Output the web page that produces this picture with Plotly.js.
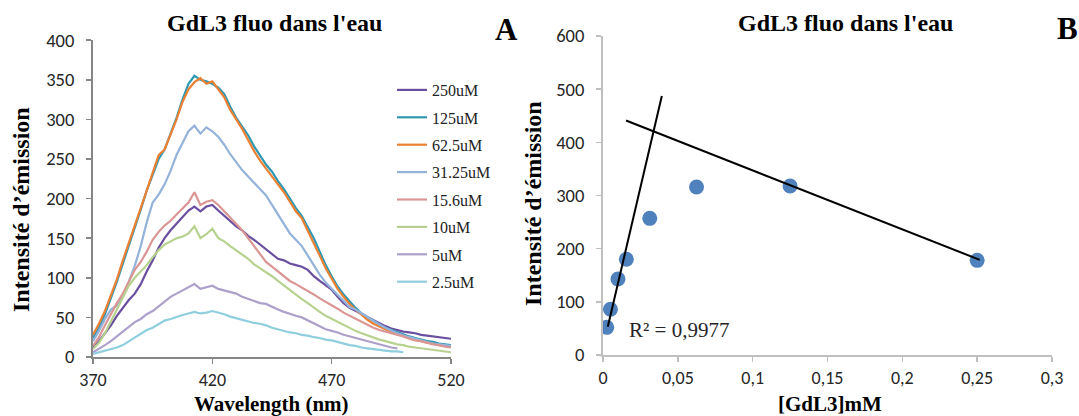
<!DOCTYPE html>
<html>
<head>
<meta charset="utf-8">
<script src="https://cdn.plot.ly/plotly-3.0.1.min.js"></script>
<style>
html,body{margin:0;padding:0;background:#ffffff;overflow:hidden}
#chart{width:1079px;height:416px}
</style>
</head>
<body>
<div id="chart"></div>
<script>
// ---------- Panel A data : emission spectra ----------
const wavelength = [370,372.5,375,377.5,380,382.5,385,387.5,390,392.5,
  395,397.5,400,402.5,405,407.5,410,412.5,415,417.5,
  420,422.5,425,427.5,430,432.5,435,437.5,440,442.5,
  445,447.5,450,452.5,455,457.5,460,462.5,465,467.5,
  470,472.5,475,477.5,480,482.5,485,487.5,490,492.5,
  495,497.5,500,502.5,505,507.5,510,512.5,515,517.5,520];

const seriesNames = ['250uM','125uM','62.5uM','31.25uM','15.6uM','10uM','5uM','2.5uM'];

const i250uM = [12,20,30,40,52,62,72,80,92,108,
  122,138,150,160,168,176,185,190,184,190,
  192,185,178,172,165,160,153,148,142,136,
  130,124,122,118,116,114,110,102,96,90,
  85,76,68,62,58,54,50,46,43,39,
  36,34,32,31,30,28,27,26,25,24,23];

const i125uM = [24,37,54,74,95,118,140,162,186,210,
  230,250,262,282,302,325,345,355,350,348,
  345,340,332,316,302,291,280,266,255,243,
  234,222,212,200,188,178,164,150,133,116,
  102,89,79,70,62,55,50,45,41,37,
  34,31,29,26,24,22,20,19,17,16,15];

const i62_5uM = [28,42,58,78,98,122,145,165,188,210,
  232,255,262,280,300,322,338,347,352,345,
  348,338,328,312,300,288,274,260,248,238,
  228,218,208,196,184,175,160,145,128,112,
  98,86,76,67,60,53,47,42,38,35,
  32,29,27,24,22,20,18,17,15,14,13];

const i31_25uM = [20,33,48,60,65,78,95,115,140,170,
  195,205,218,235,255,270,285,292,282,290,
  285,278,268,256,246,236,228,220,212,204,
  192,180,168,156,148,140,128,116,104,94,
  86,78,70,63,60,55,50,45,41,37,
  33,30,27,25,23,21,19,17,16,15,14];

const i15_6uM = [14,25,40,55,68,80,95,110,120,133,
  148,158,166,172,180,187,195,208,192,196,
  198,192,184,176,168,160,150,140,130,120,
  114,108,102,96,92,88,84,79,74,70,
  66,61,56,52,48,44,40,37,34,32,
  30,28,26,23,21,20,18,16,15,13,12];

const i10uM = [10,18,30,45,60,75,90,100,108,116,
  126,135,142,146,150,152,156,165,150,155,
  162,150,146,140,135,130,124,117,112,108,
  102,96,90,84,78,73,68,62,57,52,
  48,44,40,36,33,30,27,24,22,20,
  18,16,15,13,12,11,10,9,8,7,6];

const i5uM = [6,10,15,20,26,32,38,44,48,54,
  58,64,70,76,80,84,87,92,86,88,
  90,86,84,82,80,76,73,70,68,67,
  63,60,57,54,52,50,46,42,38,35,
  33,31,28,26,24,22,20,18,16,14,
  12,11];

const i2_5uM = [4,6,8,10,12,15,20,25,30,34,
  37,42,46,48,51,53,55,57,55,56,
  58,56,54,51,49,47,45,43,42,40,
  37,35,33,31,30,28,27,25,24,22,
  21,19,17,15,14,12,11,10,9,8,
  7,7,6];

const xTicksA = [370,420,470,520];

// ---------- Panel B data ----------
const concentration = [0.0025,0.005,0.01,0.0156,0.03125,0.0625,0.125,0.25];
const intensity = [52,86,143,180,257,316,318,178];
const trendRise_x = [0.0032,0.0393];
const trendRise_y = [53,487];
const trendFall_x = [0.0154,0.2517];
const trendFall_y = [441,179];
const xTickValsB = [0,0.05,0.1,0.15,0.2,0.25,0.3];
const xTickTextB = ['0','0,05','0,1','0,15','0,2','0,25','0,3'];
const yTicksB = [0,100,200,300,400,500,600];
const r2Label = 'R² = 0,9977';

// ---------- styles ----------
const W = 1079, H = 416;
const px = v => v / W;
const py = v => 1 - v / H;
const serif = "'Liberation Serif','Times New Roman',serif";
const sans = "Carlito,Calibri,'Liberation Sans',Arial,sans-serif";
const colors = ['#6A4FA0','#2E98B2','#EC8033','#94B3DA','#D99694','#B7D28F','#ADA0CA','#8FCEDD'];
const seriesValues = [i250uM,i125uM,i62_5uM,i31_25uM,i15_6uM,i10uM,i5uM,i2_5uM];

const traces = seriesNames.map((name, k) => ({
  type: 'scatter', mode: 'lines',
  x: wavelength.slice(0, seriesValues[k].length),
  y: seriesValues[k],
  name: name, legendgroup: 'g' + k,
  line: {color: colors[k], width: 2.2},
  xaxis: 'x', yaxis: 'y', hoverinfo: 'skip'
}));
traces.push({
  type: 'scatter', mode: 'markers', x: concentration, y: intensity,
  marker: {color: '#4F81BD', size: 15}, showlegend: false,
  xaxis: 'x2', yaxis: 'y2', hoverinfo: 'skip'
});
traces.push({
  type: 'scatter', mode: 'lines', x: trendRise_x, y: trendRise_y,
  line: {color: '#000000', width: 2}, showlegend: false,
  xaxis: 'x2', yaxis: 'y2', hoverinfo: 'skip', cliponaxis: false
});
traces.push({
  type: 'scatter', mode: 'lines', x: trendFall_x, y: trendFall_y,
  line: {color: '#000000', width: 2}, showlegend: false,
  xaxis: 'x2', yaxis: 'y2', hoverinfo: 'skip', cliponaxis: false
});

const axA = {
  showgrid: false, zeroline: false, showline: true, linecolor: '#868686', linewidth: 2,
  ticks: 'outside', ticklen: 5, tickwidth: 1.5, tickcolor: '#868686',
  tickfont: {family: sans, size: 18.5, color: '#262626'}, ticklabelstandoff: 8, fixedrange: true
};
const axB = Object.assign({}, axA, {linecolor: '#BFBFBF', tickcolor: '#BFBFBF'});
const xTickFont = {family: sans, size: 18, color: '#262626'};

const ann = (text, x, y, size, extra) => Object.assign({
  text: text, x: px(x), y: py(y), xref: 'paper', yref: 'paper',
  showarrow: false, xanchor: 'center', yanchor: 'middle',
  font: {family: serif, size: size, color: '#000000'}
}, extra || {});

const layout = {
  width: W, height: H,
  margin: {l: 0, r: 0, t: 0, b: 0},
  paper_bgcolor: '#ffffff', plot_bgcolor: '#ffffff',
  showlegend: true,
  legend: {
    x: px(392), y: py(73), xanchor: 'left', yanchor: 'top',
    font: {family: serif, size: 16, color: '#222222'},
    bgcolor: 'rgba(0,0,0,0)', borderwidth: 0, tracegroupgap: 3.6, traceorder: 'grouped'
  },
  xaxis: Object.assign({}, axA, {domain: [px(93), px(451)], range: [370, 520], tickvals: xTicksA, anchor: 'y', ticklabelstandoff: 0, tickfont: xTickFont}),
  yaxis: Object.assign({}, axA, {domain: [py(357), py(40.2)], range: [0, 400], dtick: 50, tick0: 0, anchor: 'x'}),
  xaxis2: Object.assign({}, axB, {domain: [px(603), px(1052)], range: [0, 0.3], tickvals: xTickValsB, ticktext: xTickTextB, anchor: 'y2', ticklabelstandoff: 0, tickfont: xTickFont}),
  yaxis2: Object.assign({}, axB, {domain: [py(355), py(36)], range: [0, 600], tickvals: yTicksB, anchor: 'x2'}),
  annotations: [
    ann("<b>GdL3 fluo dans l'eau</b>", 274, 23, 24),
    ann("<b>GdL3 fluo dans l'eau</b>", 845, 23, 24),
    ann("<b>A</b>", 506, 30, 31),
    ann("<b>B</b>", 1067, 29, 31),
    ann("<b>Intensité d’émission</b>", 21, 210, 24, {textangle: -90}),
    ann("<b>Intensité d’émission</b>", 533, 204, 24, {textangle: -90}),
    ann("<b>Wavelength (nm)</b>", 271, 404, 21),
    ann("<b>[GdL3]mM</b>", 830, 404, 21),
    ann(r2Label, 679, 330, 21, {font: {family: serif, size: 21, color: '#262626'}})
  ]
};

Plotly.newPlot('chart', traces, layout, {staticPlot: true, displayModeBar: false});
</script>
</body>
</html>
